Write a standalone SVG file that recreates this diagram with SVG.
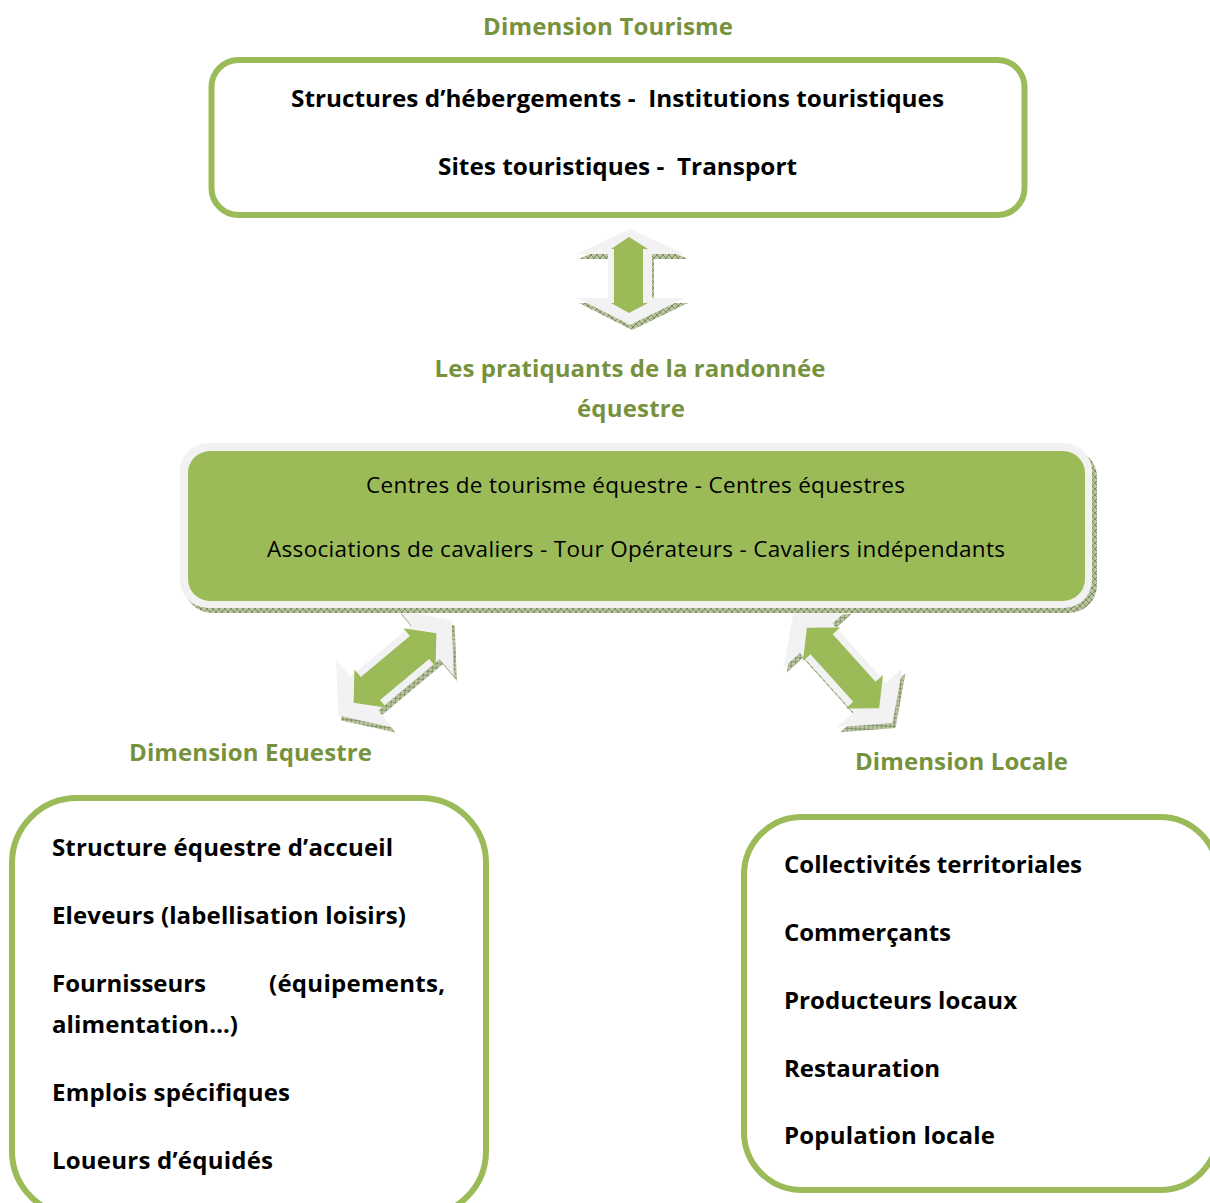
<svg xmlns="http://www.w3.org/2000/svg" width="1210" height="1203" viewBox="0 0 1210 1203">
<defs>
<pattern id="hatch" width="6" height="6" patternUnits="userSpaceOnUse">
<rect width="6" height="6" fill="#b9c4a0"/>
<path d="M0 0L6 6M6 0L0 6" stroke="#6f8050" stroke-width="0.8"/>
</pattern>
<style>
text{white-space:pre}
.title{font-family:"Open Sans","Noto Sans",sans-serif;font-weight:bold;font-size:24px;fill:#76923C}
.bt{font-family:"Open Sans","Noto Sans",sans-serif;font-weight:bold;font-size:24px;fill:#000}
.rt{font-family:"Open Sans","Noto Sans",sans-serif;font-size:22.5px;fill:#000}
.box{fill:#fff;stroke:#9BBB59;stroke-width:6}
.light{fill:#f2f2f2}
.green{fill:#9BBB59}
.shadow{fill:url(#hatch)}
</style>
</defs>
<rect width="1210" height="1203" fill="#fff"/>

<g id="tourisme">
<text class="title" x="608" y="35" text-anchor="middle" textLength="250">Dimension Tourisme</text>
<rect class="box" x="211.5" y="60" width="813" height="155" rx="27"/>
<text class="bt" x="291" y="107" textLength="653" lengthAdjust="spacingAndGlyphs">Structures d’hébergements -  Institutions touristiques</text>
<text class="bt" x="438" y="175" textLength="359" lengthAdjust="spacingAndGlyphs">Sites touristiques -  Transport</text>
</g>

<g id="connectors">
<g id="arrow-top">
<polygon class="shadow" points="632,234 688,259 654,259 654,303 688,303 632,330 579,303 610,303 610,259 579,259"/>
<polygon class="light" points="630,229 685,254 652,254 652,298 685,298 630,325 577,298 608,298 608,254 577,254"/>
<polygon class="green" points="629,237 648,249 643,249 643,303 648,303 629,313 611,303 614,303 614,249 611,249"/>
</g>
<g id="arrow-left">
<g transform="translate(398,673) rotate(-40)">
<polygon class="shadow" points="-74,0 -40,-44 -40,-22 40,-22 40,-44 74,0 40,44 40,22 -40,22 -40,44"/>
</g>
<g transform="translate(395,668) rotate(-40)">
<polygon class="light" points="-74,0 -40,-44 -40,-22 40,-22 40,-44 74,0 40,44 40,22 -40,22 -40,44"/>
<polygon class="green" points="-54,0 -32,-25 -32,-15 32,-15 32,-25 54,0 32,25 32,15 -32,15 -32,25"/>
</g>
</g>
<g id="arrow-right">
<g transform="translate(846,673) rotate(48)">
<polygon class="shadow" points="-74,0 -40,-44 -40,-22 40,-22 40,-44 74,0 40,44 40,22 -40,22 -40,44"/>
</g>
<g transform="translate(843,668) rotate(48)">
<polygon class="light" points="-74,0 -40,-44 -40,-22 40,-22 40,-44 74,0 40,44 40,22 -40,22 -40,44"/>
<polygon class="green" points="-54,0 -32,-25 -32,-15 32,-15 32,-25 54,0 32,25 32,15 -32,15 -32,25"/>
</g>
</g>
</g>

<g id="pratiquants">
<text class="title" x="630" y="377" text-anchor="middle" textLength="391">Les pratiquants de la randonnée</text>
<text class="title" x="631" y="417" text-anchor="middle" textLength="108">équestre</text>
<rect class="shadow" x="184" y="449" width="913" height="164" rx="28"/>
<rect class="light" x="180" y="443" width="912" height="165" rx="28"/>
<rect class="green" x="188" y="451" width="897" height="150" rx="22"/>
<text class="rt" x="366" y="493" textLength="539">Centres de tourisme équestre - Centres équestres</text>
<text class="rt" x="267" y="557" textLength="738">Associations de cavaliers - Tour Opérateurs - Cavaliers indépendants</text>
</g>

<g id="equestre">
<text class="title" x="129" y="761" textLength="243">Dimension Equestre</text>
<rect class="box" x="12" y="798" width="474" height="418" rx="65"/>
<text class="bt" x="52" y="856" textLength="341">Structure équestre d’accueil</text>
<text class="bt" x="52" y="924" textLength="354">Eleveurs (labellisation loisirs)</text>
<text class="bt" x="52" y="992" textLength="154">Fournisseurs</text>
<text class="bt" x="269" y="992" textLength="176">(équipements,</text>
<text class="bt" x="52" y="1033" textLength="186">alimentation…)</text>
<text class="bt" x="52" y="1101" textLength="238">Emplois spécifiques</text>
<text class="bt" x="52" y="1169" textLength="221">Loueurs d’équidés</text>
</g>

<g id="locale">
<text class="title" x="855" y="770" textLength="213">Dimension Locale</text>
<rect class="box" x="744" y="817" width="474" height="373" rx="58"/>
<text class="bt" x="784" y="873" textLength="298">Collectivités territoriales</text>
<text class="bt" x="784" y="941" textLength="167">Commerçants</text>
<text class="bt" x="784" y="1009" textLength="233">Producteurs locaux</text>
<text class="bt" x="784" y="1077" textLength="156">Restauration</text>
<text class="bt" x="784" y="1144" textLength="211">Population locale</text>
</g>
</svg>
